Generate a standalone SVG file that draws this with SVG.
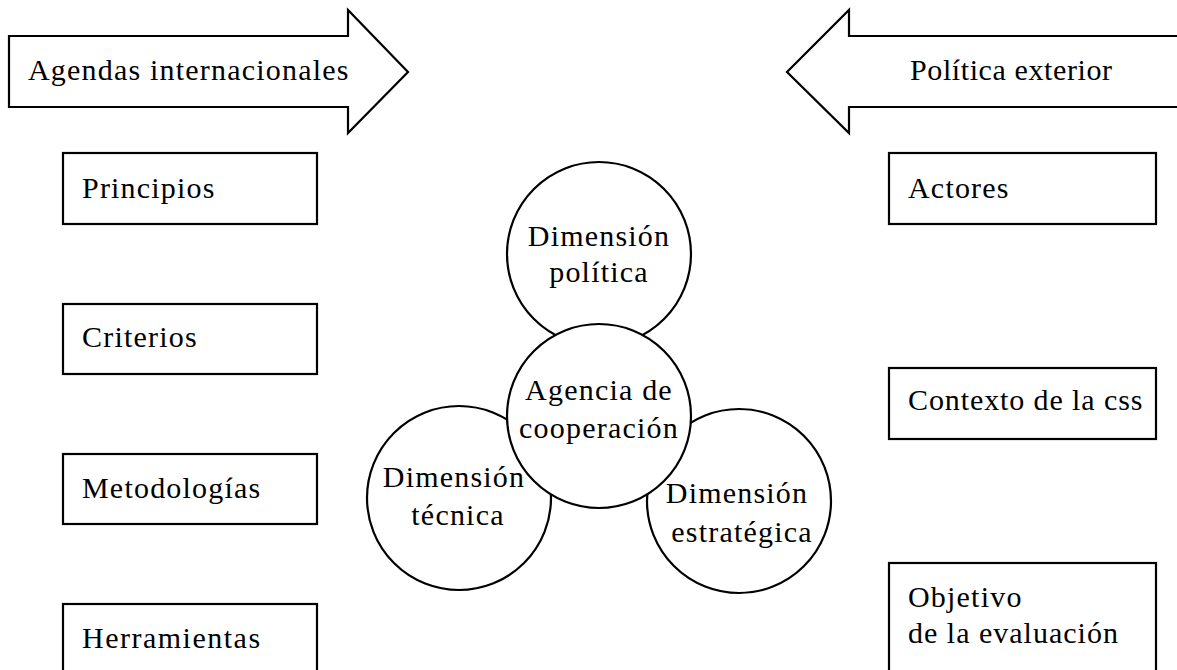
<svg xmlns="http://www.w3.org/2000/svg" width="1177" height="670" viewBox="0 0 1177 670">
<style>
.s{fill:#fff;stroke:#000;stroke-width:2.2}
.t{font-family:'Liberation Serif','Times New Roman',serif;font-size:30px;fill:#000;letter-spacing:1.2px}
.m{text-anchor:middle}
</style>
<rect width="1177" height="670" fill="#fff"/>
<g id="arrow-agendas">
<polygon class="s" points="9,36 348,36 348,10 408,72 348,133 348,107 9,107"/>
<text class="t" x="28" y="80">Agendas internacionales</text>
</g>
<g id="arrow-politica">
<polygon class="s" points="1180,36 849,36 849,10 787,72 849,133 849,107 1180,107"/>
<text class="t" x="910" y="80" style="letter-spacing:0.6px">Política exterior</text>
</g>
<g id="box-principios"><rect class="s" x="63" y="153" width="254" height="71"/><text class="t" x="82" y="198">Principios</text></g>
<g id="box-criterios"><rect class="s" x="63" y="304" width="254" height="70"/><text class="t" x="82" y="347">Criterios</text></g>
<g id="box-metodologias"><rect class="s" x="63" y="454" width="254" height="70"/><text class="t" x="82" y="498">Metodologías</text></g>
<g id="box-herramientas"><rect class="s" x="63" y="604" width="254" height="80"/><text class="t" x="82" y="648" style="letter-spacing:1.5px">Herramientas</text></g>
<g id="box-actores"><rect class="s" x="889" y="153" width="267" height="71"/><text class="t" x="908" y="198">Actores</text></g>
<g id="box-contexto"><rect class="s" x="889" y="368" width="267" height="71"/><text class="t" x="908" y="410" style="letter-spacing:0.9px">Contexto de la css</text></g>
<g id="box-objetivo"><rect class="s" x="889" y="563" width="267" height="120"/><text class="t" x="908" y="607">Objetivo</text><text class="t" x="908" y="643" style="letter-spacing:1px">de la evaluación</text></g>
<g id="circle-politica"><circle class="s" cx="599" cy="254" r="92"/></g>
<g id="circle-tecnica"><circle class="s" cx="459" cy="498" r="92"/></g>
<g id="circle-estrategica"><circle class="s" cx="739" cy="501" r="92"/></g>
<g id="circle-agencia"><circle class="s" cx="599" cy="416" r="92"/></g>
<g id="labels">
<text class="t m" x="599" y="246">Dimensión</text>
<text class="t m" x="599" y="282">política</text>
<text class="t m" x="599" y="400">Agencia de</text>
<text class="t m" x="599" y="438">cooperación</text>
<text class="t m" x="454" y="487">Dimensión</text>
<text class="t m" x="458" y="525">técnica</text>
<text class="t m" x="737" y="503">Dimensión</text>
<text class="t m" x="742" y="542">estratégica</text>
</g>
</svg>
